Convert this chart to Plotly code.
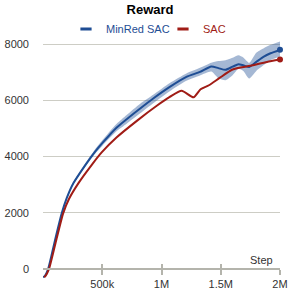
import plotly.graph_objects as go

# ---- data ----
minred_steps = [0, 15000, 45000, 100000, 158000, 200000, 256000, 354000, 440000, 500000,
                620000, 706000, 820000, 930000, 1070000, 1210000, 1325000, 1420000, 1480000,
                1540000, 1600000, 1650000, 1690000, 1740000, 1800000, 1860000, 1920000, 2000000]
minred_mean = [-290, -250, 25, 1000, 1980, 2520, 3050, 3680, 4180, 4480,
               5030, 5330, 5713, 6069, 6482, 6838, 7015, 7210, 7150,
               7090, 7200, 7290, 7250, 7190, 7370, 7550, 7680, 7800]
minred_low = [-300, -265, 0, 970, 1940, 2480, 3000, 3620, 4100, 4380,
              4900, 5170, 5540, 5900, 6330, 6700, 6890, 7030, 6790,
              6720, 6900, 7130, 7050, 6780, 7050, 7250, 7430, 7560]
minred_high = [-280, -235, 50, 1030, 2020, 2560, 3100, 3740, 4260, 4580,
               5160, 5480, 5880, 6200, 6620, 6960, 7160, 7340, 7400,
               7430, 7520, 7610, 7530, 7340, 7700, 7850, 7980, 8100]

sac_steps = [10000, 20000, 50000, 110000, 170000, 220000, 298000, 410000, 495000, 620000,
             800000, 960000, 1070000, 1170000, 1270000, 1330000, 1400000, 1490000, 1600000,
             1750000, 1890000, 2000000]
sac_mean = [-290, -250, 0, 1000, 1980, 2500, 3050, 3700, 4150, 4680,
            5300, 5810, 6126, 6345, 6110, 6400, 6540, 6800, 7100,
            7230, 7370, 7455]

x_tick_vals = [500000, 1000000, 1500000, 2000000]
x_tick_text = ["500k", "1M", "1.5M", "2M"]
y_tick_vals = [0, 2000, 4000, 6000, 8000]
y_tick_text = ["0", "2000", "4000", "6000", "8000"]

BLUE = "#1e4d94"
RED = "#a01c16"
BAND = "rgba(30,77,148,0.4)"
AXIS = "#b4b4ac"
GRID = "#cdcdc5"
TXT = "#333333"
FONT = "Liberation Sans, Arial, sans-serif"

Y_MIN, Y_MAX = -390, 8150
X_MIN, X_MAX = 0, 2000000

fig = go.Figure()

# band
fig.add_trace(go.Scatter(x=minred_steps, y=minred_low, mode="lines", line=dict(width=0, shape="spline", smoothing=0.6),
                         showlegend=False, hoverinfo="skip"))
fig.add_trace(go.Scatter(x=minred_steps, y=minred_high, mode="lines", line=dict(width=0, shape="spline", smoothing=0.6),
                         fill="tonexty", fillcolor=BAND, showlegend=False, hoverinfo="skip"))

# lines
fig.add_trace(go.Scatter(x=minred_steps, y=minred_mean, mode="lines",
                         line=dict(color=BLUE, width=2, shape="spline", smoothing=0.6), showlegend=False))
fig.add_trace(go.Scatter(x=sac_steps, y=sac_mean, mode="lines",
                         line=dict(color=RED, width=2, shape="spline", smoothing=0.6), showlegend=False))

# end markers
fig.add_trace(go.Scatter(x=minred_steps[-1:], y=minred_mean[-1:], mode="markers",
                         marker=dict(color=BLUE, size=6), showlegend=False, cliponaxis=False))
fig.add_trace(go.Scatter(x=sac_steps[-1:], y=sac_mean[-1:], mode="markers",
                         marker=dict(color=RED, size=6), showlegend=False, cliponaxis=False))

# legend entries (one legend per item so spacing can match)
fig.add_trace(go.Scatter(x=[None], y=[None], mode="markers", legend="legend",
                         name="<span style='color:%s'>MinRed SAC</span>" % BLUE,
                         marker=dict(symbol="line-ew", size=8, line=dict(width=3, color=BLUE))))
fig.add_trace(go.Scatter(x=[None], y=[None], mode="markers", legend="legend2",
                         name="<span style='color:%s'>SAC</span>" % RED,
                         marker=dict(symbol="line-ew", size=8, line=dict(width=3, color=RED))))

# helper trace so the second (tick) axis is drawn
fig.add_trace(go.Scatter(x=[None], y=[None], xaxis="x2", showlegend=False, hoverinfo="skip"))

zero_pos = (0 - Y_MIN) / (Y_MAX - Y_MIN)

legend_common = dict(orientation="h", xref="container", xanchor="left",
                     yref="container", y=1 - 29 / 300, yanchor="middle",
                     font=dict(family=FONT, size=11), itemwidth=30,
                     bgcolor="rgba(0,0,0,0)")

fig.update_layout(
    width=300, height=300,
    margin=dict(l=43, r=20, t=40, b=20, autoexpand=False),
    paper_bgcolor="white", plot_bgcolor="white",
    font=dict(family=FONT, size=11, color=TXT),
    title=dict(text="<b>Reward</b>", x=0.5, xanchor="center", xref="container",
               y=1 - 9 / 300, yref="container", yanchor="middle",
               font=dict(family=FONT, size=13, color="#000000")),
    legend=dict(x=66 / 300, **legend_common),
    legend2=dict(x=163 / 300, **legend_common),
    xaxis=dict(range=[X_MIN, X_MAX], anchor="free", position=zero_pos, automargin=False,
               showline=True, linecolor=AXIS, linewidth=2,
               ticks="outside", ticklen=5, tickwidth=2, tickcolor=AXIS,
               tickvals=x_tick_vals, ticktext=x_tick_text,
               tickfont=dict(size=11, color=TXT),
               showgrid=False, zeroline=False),
    xaxis2=dict(range=[X_MIN, X_MAX], overlaying="x", anchor="free", position=zero_pos,
                automargin=False,
                showline=False, ticks="inside", ticklen=5, tickwidth=2, tickcolor=AXIS,
                tickvals=x_tick_vals, showticklabels=False, showgrid=False, zeroline=False),
    yaxis=dict(range=[Y_MIN, Y_MAX], tickvals=y_tick_vals, ticktext=y_tick_text,
               automargin=False,
               showgrid=True, gridcolor=GRID, gridwidth=1, zeroline=False,
               showline=False, ticks="", ticklabelstandoff=13,
               tickfont=dict(size=11, color=TXT)),
    annotations=[dict(text="Step", x=X_MAX, xref="x", xanchor="right", xshift=-5,
                      y=0, yref="y", yanchor="bottom", yshift=1, showarrow=False,
                      font=dict(family=FONT, size=11, color=TXT))],
    hovermode=False,
)

fig.write_html("out.html", config={"displayModeBar": False},
               post_script="document.body.style.margin='0';")
